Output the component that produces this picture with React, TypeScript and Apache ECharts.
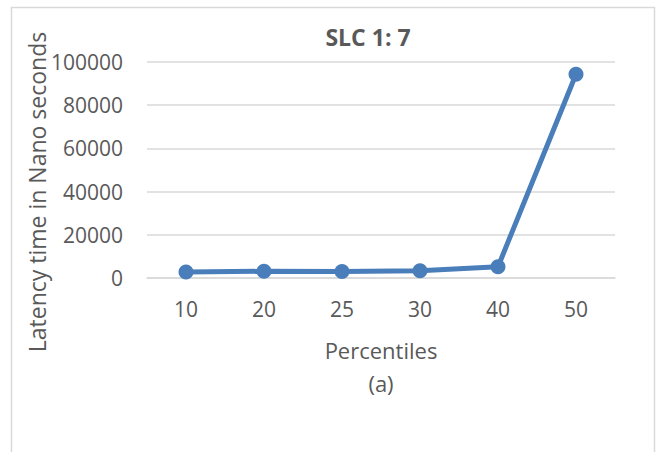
import React, { useEffect, useRef } from "react";
import * as echarts from "echarts";

const categories = ["10", "20", "25", "30", "40", "50"];
const latency = [2800, 3100, 3000, 3400, 5200, 94300];
const titleText = "SLC 1: 7";
const yAxisTitle = "Latency time in Nano seconds";
const xAxisTitle = "Percentiles\n(a)";

const FONT = "'Open Sans', 'Noto Sans', sans-serif";
const TEXT = "#595959";

export default function App() {
  const ref = useRef<HTMLDivElement>(null);
  useEffect(() => {
    if (!ref.current) return;
    const chart = echarts.init(ref.current, null, { renderer: "svg" });
    chart.setOption({
      animation: false,
      backgroundColor: "#ffffff",
      textStyle: { fontFamily: FONT },
      title: {
        text: titleText,
        left: 363,
        top: 20,
        textAlign: "center",
        textStyle: { fontFamily: FONT, fontSize: 23, fontWeight: "bold", color: TEXT },
      },
      grid: { left: 147, right: 43, top: 62, bottom: 174 },
      xAxis: {
        type: "category",
        data: categories,
        boundaryGap: true,
        axisTick: { show: false },
        axisLine: { show: true, lineStyle: { color: "#d9d9d9", width: 1.5 } },
        axisLabel: { fontSize: 21, color: TEXT, margin: 20, fontFamily: FONT },
        name: xAxisTitle,
        nameLocation: "middle",
        nameGap: 55,
        nameTextStyle: { fontSize: 22, color: TEXT, lineHeight: 33, fontFamily: FONT },
      },
      yAxis: {
        type: "value",
        min: 0,
        max: 100000,
        interval: 20000,
        axisLine: { show: false },
        axisTick: { show: false },
        axisLabel: {
          fontSize: 21,
          color: TEXT,
          margin: 24,
          fontFamily: FONT,
          formatter: (v: number) => String(v),
        },
        splitLine: { lineStyle: { color: "#d9d9d9", width: 1.5 } },
      },
      graphic: [
        {
          type: "rect",
          shape: { x: 11.5, y: 7.5, width: 643, height: 470 },
          style: { fill: "none", stroke: "#d9d9d9", lineWidth: 1.5 },
          silent: true,
        },
        {
          type: "text",
          x: 37,
          y: 192,
          rotation: Math.PI / 2,
          style: {
            text: yAxisTitle,
            fontSize: 23,
            fontFamily: FONT,
            fill: TEXT,
            align: "center",
            verticalAlign: "middle",
          },
        },
      ],
      series: [
        {
          type: "line",
          data: latency,
          symbol: "circle",
          symbolSize: 15,
          lineStyle: { color: "#4a7ebb", width: 5 },
          itemStyle: { color: "#4a7ebb" },
        },
      ],
    });
    return () => chart.dispose();
  }, []);
  return (
    <div
      ref={ref}
      style={{ position: "fixed", left: 0, top: 0, width: 658, height: 452 }}
    />
  );
}
